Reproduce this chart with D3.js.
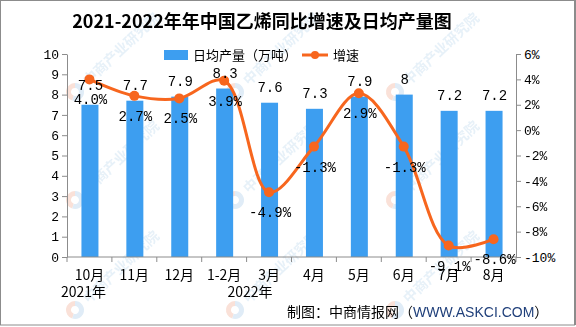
<!DOCTYPE html>
<html><head><meta charset="utf-8">
<script src="https://cdn.jsdelivr.net/npm/d3@7"></script>
<style>html,body{margin:0;padding:0;background:#fff;}svg{display:block;}</style>
</head><body>
<svg id="chart" width="576" height="327"></svg>
<script>
const categories = ["10月","11月","12月","1-2月","3月","4月","5月","6月","7月","8月"];
const dailyOutput = [7.5,7.7,7.9,8.3,7.6,7.3,7.9,8,7.2,7.2];
const growthRate = [4.0,2.7,2.5,3.9,-4.9,-1.3,2.9,-1.3,-9.1,-8.6];
const leftTicks = [0,1,2,3,4,5,6,7,8,9,10];
const rightTicks = [-10,-8,-6,-4,-2,0,2,4,6];
const yearLabels = [{text:"2021年", cat:"10月", dx:-6},{text:"2022年", cat:"3月", dx:-19}];
const titleText = "2021-2022年年中国乙烯同比增速及日均产量图";
const legendBar = "日均产量（万吨）";
const legendLine = "增速";
const sourceText = ["制图：中商情报网（","WWW.ASKCI.COM","）"];
const watermark = "中商产业研究院";

const svg = d3.select("#chart");
const W = 576, H = 327;
const L = 67, R = 516, T = 54, B = 257;
const cjk = "'Noto Sans CJK SC', sans-serif";
const num = "'Liberation Mono', monospace";
const barColor = "#3d9ef0", lineColor = "#f7661e", axisColor = "#8c8c8c";

// watermarks
const wm = svg.append("g").attr("opacity", 0.55);
[75, 235, 395].forEach(cx => {
  [92, 200, 310].forEach(cy => {
    const g = wm.append("g").attr("transform", `translate(${cx},${cy})`);
    g.append("path").attr("d", d3.arc()({innerRadius:4, outerRadius:9, startAngle:-Math.PI*0.9, endAngle:0})).attr("fill","#f6c9b8");
    g.append("path").attr("d", d3.arc()({innerRadius:4, outerRadius:9, startAngle:0, endAngle:Math.PI*1.1})).attr("fill","#c6ddf0");
    g.append("text").attr("transform","rotate(-43) translate(14,5)")
      .attr("font-family", cjk).attr("font-size", 14).attr("font-weight","bold")
      .attr("fill","#d3e5f3").text(watermark);
  });
});

const x = d3.scaleBand().domain(categories).range([L, R]).padding(0);
const yL = d3.scaleLinear().domain([0, 10]).range([B, T]);
const yR = d3.scaleLinear().domain([-10, 6]).range([B, T]);
const barW = 17;

// bars
svg.append("g").selectAll("rect").data(categories).join("rect")
  .attr("x", (d) => x(d) + x.bandwidth()/2 - barW/2 + 0.5)
  .attr("y", (d,i) => yL(dailyOutput[i]))
  .attr("width", barW)
  .attr("height", (d,i) => yL(0) - yL(dailyOutput[i]))
  .attr("fill", barColor);

// left axis
const axL = svg.append("g").attr("transform", `translate(${L},0)`)
  .call(d3.axisLeft(yL).tickValues(leftTicks).tickSize(5).tickSizeOuter(0).tickPadding(3).tickFormat(d3.format("d")));
// right axis
const axR = svg.append("g").attr("transform", `translate(${R},0)`)
  .call(d3.axisRight(yR).tickValues(rightTicks).tickSize(5).tickSizeOuter(0).tickPadding(3).tickFormat(d => d + "%"));
[axL, axR].forEach(a => {
  a.select(".domain").attr("stroke", axisColor);
  a.selectAll(".tick line").attr("stroke", axisColor);
  a.selectAll(".tick text").attr("font-family", num).attr("font-size", 13).attr("fill", "#000");
});

// bottom axis
const bx = svg.append("g");
bx.append("line").attr("x1", L).attr("x2", R).attr("y1", B).attr("y2", B).attr("stroke", axisColor);
const boundaries = categories.map(c => x(c)).concat([R]);
bx.selectAll("line.t").data(boundaries).join("line").attr("class","t")
  .attr("x1", d => d).attr("x2", d => d).attr("y1", B).attr("y2", B + 5).attr("stroke", axisColor);
bx.selectAll("text.c").data(categories).join("text").attr("class","c")
  .attr("x", d => x(d) + x.bandwidth()/2).attr("y", B + 23)
  .attr("text-anchor","middle").attr("font-family", cjk).attr("font-size", 14).attr("fill","#000")
  .text(d => d);
bx.selectAll("text.y").data(yearLabels).join("text").attr("class","y")
  .attr("x", d => x(d.cat) + x.bandwidth()/2 + d.dx).attr("y", B + 40)
  .attr("text-anchor","middle").attr("font-family", cjk).attr("font-size", 14).attr("fill","#000")
  .text(d => d.text);

// line
const pts = categories.map((c,i) => [x(c) + x.bandwidth()/2, yR(growthRate[i])]);
svg.append("path").attr("d", d3.line().curve(d3.curveCatmullRom.alpha(0.5))(pts))
  .attr("fill","none").attr("stroke", lineColor).attr("stroke-width", 3);
svg.append("g").selectAll("circle").data(pts).join("circle")
  .attr("cx", d => d[0]).attr("cy", d => d[1]).attr("r", 5).attr("fill", lineColor);

// value labels
svg.append("g").selectAll("text").data(categories).join("text")
  .attr("x", d => x(d) + x.bandwidth()/2 + 1)
  .attr("y", (d,i) => yL(dailyOutput[i]) - (i === 0 ? 15 : 11))
  .attr("text-anchor","middle").attr("font-family", num).attr("font-size", 14).attr("fill","#000")
  .text((d,i) => String(dailyOutput[i]));
svg.append("g").selectAll("text").data(categories).join("text")
  .attr("x", d => x(d) + x.bandwidth()/2 + 1)
  .attr("y", (d,i) => yR(growthRate[i]) + 25)
  .attr("text-anchor","middle").attr("font-family", num).attr("font-size", 14).attr("fill","#000")
  .text((d,i) => growthRate[i].toFixed(1) + "%");

// title
svg.append("text").attr("x", 262).attr("y", 28).attr("text-anchor","middle")
  .attr("font-family", cjk).attr("font-size", 18).attr("font-weight","bold").attr("fill","#000")
  .text(titleText);

// legend
const lg = svg.append("g");
lg.append("rect").attr("x", 164).attr("y", 50).attr("width", 24).attr("height", 10).attr("fill", barColor);
lg.append("text").attr("x", 193).attr("y", 60).attr("font-family", cjk).attr("font-size", 13).attr("fill","#000").text(legendBar);
lg.append("line").attr("x1", 302).attr("x2", 328).attr("y1", 55).attr("y2", 55).attr("stroke", lineColor).attr("stroke-width", 3);
lg.append("circle").attr("cx", 315).attr("cy", 55).attr("r", 4).attr("fill", lineColor);
lg.append("text").attr("x", 333).attr("y", 60).attr("font-family", cjk).attr("font-size", 13).attr("fill","#000").text(legendLine);

// source
const src = svg.append("text").attr("x", 287).attr("y", 317).attr("font-size", 14).attr("fill","#000");
src.append("tspan").attr("font-family", cjk).text(sourceText[0]);
src.append("tspan").attr("font-family", "'Liberation Sans', sans-serif").attr("fill","#1f3f7a").text(sourceText[1]);
src.append("tspan").attr("font-family", cjk).text(sourceText[2]);

// frame
svg.append("rect").attr("x", 0.5).attr("y", 0.5).attr("width", W - 2).attr("height", H - 2.5)
  .attr("fill","none").attr("stroke", axisColor).attr("stroke-width", 1);
svg.append("line").attr("x1", W - 1).attr("x2", W - 1).attr("y1", 0).attr("y2", H - 2).attr("stroke", axisColor).attr("stroke-width", 2);
</script>
</body></html>
